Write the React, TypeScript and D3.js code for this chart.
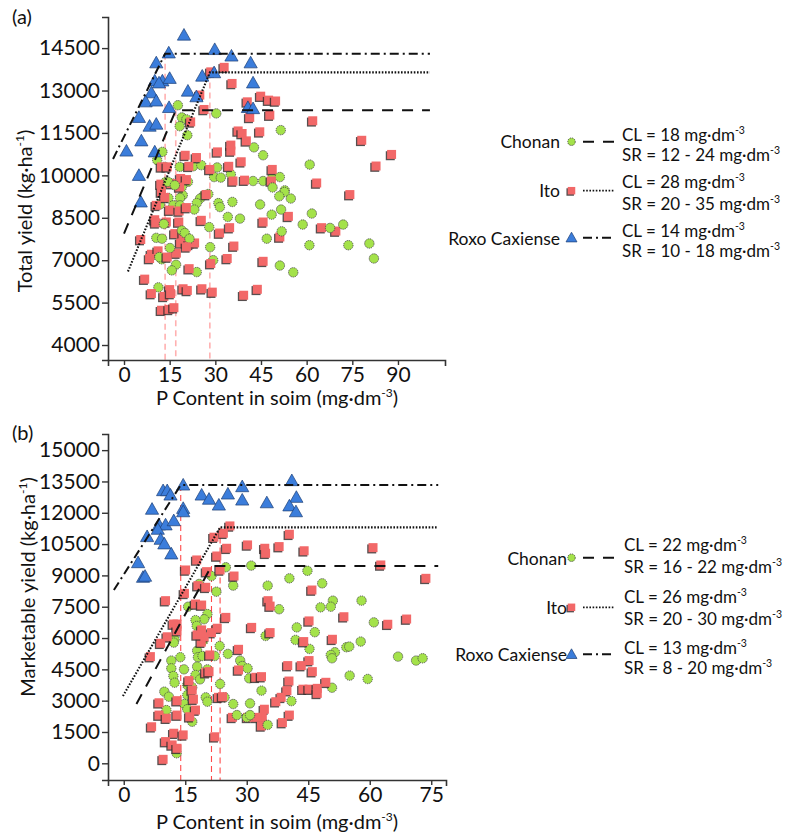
import React, { useEffect, useRef } from "react";
import * as d3 from "d3";

type Pt = [number, number];

// ---- (a) total yield, [P in soil, kg/ha] ----
const chonanTotal: Pt[] = [
  [17.7, 12480], [19.0, 12050], [20.5, 11980], [18.3, 11740], [20.8, 11420], [30.3, 12190], [51.5, 11600],
  [42.7, 10990], [45.7, 10710], [12.6, 10830], [10.9, 10540], [18.3, 10300], [22.7, 10320], [25.4, 10360],
  [13.4, 10300], [30.6, 10280], [29.6, 9940], [31.8, 9920], [35.1, 10040], [42.4, 9800], [45.7, 9800],
  [48.8, 9940], [51.2, 9940], [61.0, 10380], [21.0, 9770], [15.9, 9710], [52.8, 9470], [13.7, 9770],
  [19.0, 9590], [19.3, 9300], [26.3, 9300], [25.0, 9180], [23.9, 9020], [27.7, 9340], [31.0, 9020],
  [31.5, 8880], [35.6, 9060], [11.8, 8970], [14.6, 9200], [18.4, 9200], [16.2, 8940], [18.4, 8940],
  [23.1, 8790], [34.1, 8530], [38.1, 8470], [44.7, 8970], [48.5, 8610], [51.6, 8790], [51.8, 8020],
  [46.9, 7760], [58.7, 8260], [61.7, 8650], [67.7, 8140], [72.0, 8260], [60.9, 7530], [73.7, 7530],
  [80.6, 7590], [82.1, 7060], [51.2, 6810], [55.6, 6570], [13.1, 8280], [19.0, 8050], [20.0, 7960],
  [21.5, 7760], [10.6, 7790], [12.5, 7760], [15.1, 7430], [12.4, 7030], [11.6, 7110], [17.1, 6840],
  [15.7, 6640], [23.9, 6580], [28.3, 7460], [29.3, 7000], [28.0, 8170], [11.3, 6040], [48.8, 9570],
  [52.7, 9410], [51.0, 9260], [54.8, 9180], [14.5, 9770], [16.7, 9650],
];
const itoTotal: Pt[] = [
  [32.9, 13820], [28.5, 13660], [35.5, 13250], [24.9, 12840], [26.3, 12330], [40.5, 12600], [44.9, 12800],
  [47.5, 12660], [49.8, 12630], [41.3, 12050], [47.9, 12130], [21.9, 11890], [37.5, 11570], [38.8, 11480],
  [44.6, 11540], [40.2, 11220], [35.1, 11070], [30.7, 10830], [35.1, 10860], [23.8, 10630], [38.5, 10480],
  [20.1, 10710], [34.4, 10320], [21.3, 10320], [12.3, 10300], [14.2, 10300], [28.2, 10210], [48.7, 10210],
  [18.6, 9890], [20.5, 9850], [35.8, 9800], [39.6, 9830], [48.4, 9800], [12.1, 9690], [18.3, 9590],
  [62.0, 11930], [78.1, 11240], [87.9, 10740], [82.8, 10330], [63.3, 9730], [74.2, 9320], [54.0, 8550],
  [64.9, 8150], [69.6, 8030], [51.2, 7820], [15.5, 9710], [27.0, 9320], [12.3, 9410], [13.4, 9220],
  [15.0, 8770], [18.1, 8740], [20.5, 8860], [10.6, 8940], [10.1, 8430], [10.4, 8320], [13.9, 8350],
  [18.0, 8350], [25.4, 8410], [16.7, 7940], [5.5, 7730], [19.4, 7880], [18.6, 7610], [21.4, 7560],
  [23.2, 7610], [20.5, 7470], [17.2, 7250], [9.0, 7210], [11.2, 7330], [8.4, 7060], [14.2, 7110],
  [31.4, 7960], [34.7, 8150], [36.1, 7500], [45.7, 8350], [33.9, 7060], [28.5, 6880], [45.7, 6960],
  [21.4, 6700], [6.8, 6330], [9.0, 5820], [15.0, 5960], [13.1, 5720], [15.3, 5820], [19.4, 5990],
  [20.8, 5930], [25.6, 5990], [29.0, 5870], [39.3, 5760], [43.8, 5970], [12.3, 5230], [14.8, 5260],
  [16.4, 5320],
];
const roxoTotal: Pt[] = [
  [19.7, 14960], [14.7, 14330], [29.8, 14450], [35.3, 14220], [41.6, 13980], [10.6, 13980], [10.1, 13340],
  [12.6, 13340], [15.0, 13430], [11.5, 13270], [25.7, 13510], [29.6, 13630], [42.4, 13270], [9.0, 12920],
  [21.0, 12980], [7.1, 12600], [10.6, 12630], [23.8, 12780], [14.8, 12400], [40.7, 12400], [42.4, 12360],
  [4.9, 12050], [8.4, 11740], [10.6, 11810], [5.7, 11220], [0.8, 10860], [10.1, 10830], [4.9, 10000],
  [5.5, 9060],
];

// ---- (b) marketable yield ----
const chonanMarket: Pt[] = [
  [24.9, 9390], [31.1, 9470], [21.4, 8970], [26.7, 8510], [35.1, 8510], [40.4, 8860], [44.8, 9220],
  [22.6, 8220], [18.4, 8590], [37.9, 7380], [15.7, 7500], [48.4, 8620], [51.0, 7790], [50.5, 7500],
  [58.0, 7790], [48.0, 7470], [42.2, 6510], [46.6, 6280], [61.0, 6750], [41.9, 5910], [45.3, 5480],
  [51.5, 5320], [50.5, 5190], [50.8, 5030], [54.3, 5560], [55.0, 5590], [57.8, 5830], [66.9, 5110],
  [71.3, 4920], [72.9, 5030], [55.1, 4200], [59.5, 4040], [50.8, 3620], [40.9, 2980], [20.4, 7150],
  [19.6, 6900], [17.5, 6860], [17.8, 6580], [18.7, 6150], [19.4, 5870], [12.4, 5940], [12.2, 5780],
  [34.6, 6100], [23.4, 5620], [25.4, 5240], [17.9, 5390], [18.1, 5080], [19.2, 5140], [22.2, 5140],
  [13.8, 5080], [11.6, 4920], [11.6, 4550], [14.7, 4500], [17.9, 4630], [20.4, 4500], [28.4, 4920],
  [28.9, 4660], [30.2, 4550], [30.6, 4070], [12.1, 4180], [12.4, 3860], [17.5, 4230], [18.6, 4020],
  [15.5, 3750], [16.7, 3640], [23.5, 3800], [33.6, 3480], [9.9, 3430], [11.0, 3190], [15.5, 3270],
  [20.0, 3160], [20.4, 2950], [14.8, 2840], [24.6, 3160], [26.7, 2840], [30.8, 2870], [10.4, 2550],
  [15.5, 2590], [27.6, 2310], [30.0, 2200], [30.8, 2310], [35.1, 1840], [16.7, 1990], [12.9, 480],
];
const itoMarket: Pt[] = [
  [25.9, 11370], [24.3, 11020], [22.0, 10830], [40.4, 10970], [44.0, 10180], [30.2, 10460], [34.4, 10300],
  [34.6, 10060], [37.9, 10380], [25.1, 10300], [22.7, 9930], [17.8, 9740], [15.1, 9260], [20.2, 9180],
  [23.5, 9260], [26.9, 8970], [14.8, 8140], [18.1, 8510], [20.0, 8430], [10.2, 7790], [17.5, 7630],
  [19.0, 7580], [35.2, 7790], [35.7, 7530], [60.8, 10330], [62.7, 9500], [73.7, 8860], [45.9, 8300],
  [53.7, 7020], [45.2, 6820], [64.4, 6660], [69.0, 6910], [50.9, 5940], [43.9, 5830], [45.2, 4920],
  [40.0, 4680], [43.3, 4680], [46.0, 4390], [40.3, 3940], [49.3, 3880], [39.8, 3480], [43.7, 3550],
  [45.2, 3550], [47.2, 3590], [47.2, 3350], [38.4, 3160], [40.4, 2310], [38.7, 1950], [13.0, 6670],
  [12.1, 6670], [24.9, 6990], [22.8, 6470], [21.4, 6260], [13.0, 6350], [19.0, 6390], [31.2, 6510],
  [35.7, 6260], [10.6, 6060], [9.0, 5750], [19.6, 6060], [18.9, 5800], [17.9, 6150], [6.5, 5110],
  [21.0, 5190], [28.0, 5460], [20.0, 4340], [20.8, 4390], [15.9, 3960], [28.0, 4470], [32.2, 4120],
  [33.6, 4150], [37.1, 2950], [34.3, 2590], [33.8, 2200], [32.4, 2200], [33.6, 1790], [30.2, 2200],
  [26.5, 2200], [23.1, 3160], [24.1, 3190], [16.7, 3510], [17.0, 3070], [17.5, 2550], [13.0, 3000],
  [8.6, 2900], [8.6, 2310], [10.4, 2160], [13.0, 2310], [16.1, 2230], [6.8, 1750], [12.2, 1440],
  [14.5, 1360], [10.2, 1040], [11.8, 880], [13.0, 720], [9.6, 190], [22.2, 1270],
];
const roxoMarket: Pt[] = [
  [14.5, 13330], [9.6, 13060], [10.6, 13060], [11.4, 12850], [19.0, 12850], [20.8, 12650], [23.2, 12370],
  [25.4, 12900], [28.9, 13250], [28.9, 12610], [34.9, 12480], [41.0, 13540], [42.1, 12740], [40.4, 12330],
  [42.0, 12050], [14.5, 12210], [14.5, 12050], [6.9, 12170], [8.6, 11420], [10.2, 11420], [12.2, 11620],
  [8.3, 11210], [9.0, 10730], [9.9, 10510], [5.7, 10860], [11.6, 10030], [3.5, 9610], [4.7, 8910],
  [5.2, 8960],
];

// linear-plateau fits: [start P, start yield, critical P, plateau yield, end P]
const chonanFitTotal = [0, 7940, 17, 12300, 100.5];
const itoFitTotal = [1.3, 6600, 28.2, 13640, 100.5];
const roxoFitTotal = [-3.6, 10580, 13.5, 14300, 100.5];
const chonanFitMarket = [3.1, 2840, 21.4, 9450, 76.7];
const itoFitMarket = [-0.2, 3220, 23.5, 11300, 76.7];
const roxoFitMarket = [-2.4, 8300, 13.9, 13330, 76.7];

const cultivars = ["Chonan", "Ito", "Roxo Caxiense"];
const clTotal = ["18", "28", "14"];
const srTotal = ["12 - 24", "20 - 35", "10 - 18"];
const clMarket = ["22", "26", "13"];
const srMarket = ["16 - 22", "20 - 30", "8 - 20"];

const xTicksTotal = [0, 15, 30, 45, 60, 75, 90];
const yTicksTotal = [4000, 5500, 7000, 8500, 10000, 11500, 13000, 14500];
const xTicksMarket = [0, 15, 30, 45, 60, 75];
const yTicksMarket = [0, 1500, 3000, 4500, 6000, 7500, 9000, 10500, 12000, 13500, 15000];

const FONT = "Lato, 'Open Sans', sans-serif";
const GREEN = "#a4e24a";
const RED = "#f26868";
const BLUE = "#3b7ddb";
const DASH = ["11,9", "1.6,1.6", "9,4,2,4"];

type Panel = {
  tag: string;
  xDomain: [number, number];
  yDomain: [number, number];
  xRange: [number, number];
  yRange: [number, number];
  xTicks: number[];
  yTicks: number[];
  series: Pt[][];
  fits: number[][];
  vColor: string;
  vWidth: number;
  yTitle: string;
  yTitleX: number;
  yTitleY: number;
  xTitleY: number;
  tagY: number;
  cl: string[];
  sr: string[];
  legendLabelX: number;
  legendTextX: number;
  // per row: label baseline, marker y, CL baseline, SR baseline
  legendRows: number[][];
};

const panels: Panel[] = [
  {
    tag: "(a)", xDomain: [-5.26, 105.45], yDomain: [3470, 15600], xRange: [108, 445], yRange: [360, 17],
    xTicks: xTicksTotal, yTicks: yTicksTotal,
    series: [chonanTotal, itoTotal, roxoTotal],
    fits: [chonanFitTotal, itoFitTotal, roxoFitTotal],
    vColor: "#ffb0b0", vWidth: 1.6,
    yTitle: "Total yield (kg·ha", yTitleX: 32, yTitleY: 211, xTitleY: 405, tagY: 24,
    cl: clTotal, sr: srTotal, legendLabelX: 560, legendTextX: 622,
    legendRows: [[147.7, 141.7, 141, 160.5], [197.3, 190.7, 188, 209.5], [245, 237.7, 237, 257]],
  },
  {
    tag: "(b)", xDomain: [-3.84, 78.6], yDomain: [-800, 15773], xRange: [108, 446], yRange: [780, 434],
    xTicks: xTicksMarket, yTicks: yTicksMarket,
    series: [chonanMarket, itoMarket, roxoMarket],
    fits: [chonanFitMarket, itoFitMarket, roxoFitMarket],
    vColor: "#ff4a4a", vWidth: 1.1,
    yTitle: "Marketable yield (kg·ha", yTitleX: 35, yTitleY: 587, xTitleY: 829, tagY: 440,
    cl: clMarket, sr: srMarket, legendLabelX: 567, legendTextX: 624,
    legendRows: [[565, 557.7, 551, 572.7], [614, 607.3, 602.5, 625], [660.7, 654.3, 653.5, 674]],
  },
];

const triPath = (s: number) => `M0,${-s * 0.55}L${s * 0.55},${s * 0.42}L${-s * 0.55},${s * 0.42}Z`;

function drawMarker(g: d3.Selection<SVGGElement, unknown, null, undefined>, k: number, x: number, y: number, size: number) {
  if (k === 0) {
    g.append("circle").attr("cx", x).attr("cy", y).attr("r", size / 2)
      .attr("fill", GREEN).attr("stroke", "#4a4a4a").attr("stroke-width", 0.9).attr("stroke-dasharray", "1.3,0.9");
  } else if (k === 1) {
    g.append("rect").attr("x", x - size / 2 - 1.3).attr("y", y - size / 2 + 1.3).attr("width", size).attr("height", size)
      .attr("fill", "#3a3030").attr("opacity", 0.85);
    g.append("rect").attr("x", x - size / 2).attr("y", y - size / 2).attr("width", size).attr("height", size)
      .attr("fill", RED);
  } else {
    g.append("path").attr("d", triPath(size)).attr("transform", `translate(${x},${y})`)
      .attr("fill", BLUE).attr("stroke", "#1d3f75").attr("stroke-width", 0.7);
  }
}

export default function App() {
  const ref = useRef<SVGSVGElement>(null);

  useEffect(() => {
    const svg = d3.select(ref.current);
    svg.selectAll("*").remove();

    panels.forEach((p) => {
      const x = d3.scaleLinear().domain(p.xDomain).range(p.xRange);
      const y = d3.scaleLinear().domain(p.yDomain).range(p.yRange);
      const g = svg.append("g");

      // critical-level guides
      p.fits.forEach((f) => {
        g.append("line").attr("x1", x(f[2])).attr("x2", x(f[2])).attr("y1", y(f[3])).attr("y2", p.yRange[0])
          .attr("stroke", p.vColor).attr("stroke-width", p.vWidth).attr("stroke-dasharray", "6,4");
      });

      // points: circles and squares interleaved, triangles on top
      const pts = g.append("g");
      const n = Math.max(p.series[0].length, p.series[1].length);
      for (let i = 0; i < n; i++) {
        if (p.series[1][i]) drawMarker(pts, 1, x(p.series[1][i][0]), y(p.series[1][i][1]), 9);
        if (p.series[0][i]) drawMarker(pts, 0, x(p.series[0][i][0]), y(p.series[0][i][1]), 9.4);
      }
      p.series[2].forEach((d) => drawMarker(pts, 2, x(d[0]), y(d[1]), 12));

      // fitted linear-plateau lines
      p.fits.forEach((f, k) => {
        const line = d3.line<number[]>().x((d) => x(d[0])).y((d) => y(d[1]));
        g.append("path").attr("d", line([[f[0], f[1]], [f[2], f[3]], [f[4], f[3]]]))
          .attr("fill", "none").attr("stroke", "#111").attr("stroke-width", k === 1 ? 2.1 : 2)
          .attr("stroke-dasharray", DASH[k]);
      });

      // axes
      const ax = g.append("g").attr("transform", `translate(${p.xRange[0]},0)`)
        .call(d3.axisLeft(y).tickValues(p.yTicks).tickSize(6).tickSizeOuter(6).tickPadding(2).tickFormat(d3.format("d")));
      const bx = g.append("g").attr("transform", `translate(0,${p.yRange[0]})`)
        .call(d3.axisBottom(x).tickValues(p.xTicks).tickSize(5).tickSizeOuter(6).tickPadding(2.5));
      [ax, bx].forEach((a) => {
        a.select(".domain").attr("stroke", "#333").attr("stroke-width", 1.6);
        a.selectAll(".tick line").attr("stroke", "#333").attr("stroke-width", 1.4);
        a.selectAll("text").attr("font-family", FONT).attr("font-size", 21).attr("fill", "#111");
      });

      // titles
      const yt = g.append("text").attr("transform", `translate(${p.yTitleX},${p.yTitleY}) rotate(-90)`)
        .attr("text-anchor", "middle").attr("font-family", FONT).attr("font-size", 20).attr("fill", "#111");
      yt.append("tspan").text(p.yTitle);
      yt.append("tspan").attr("dy", -8).attr("font-size", 12).text("-1");
      yt.append("tspan").attr("dy", 8).text(")");

      const xt = g.append("text").attr("x", 277).attr("y", p.xTitleY)
        .attr("text-anchor", "middle").attr("font-family", FONT).attr("font-size", 20).attr("fill", "#111");
      xt.append("tspan").text("P Content in soim (mg·dm");
      xt.append("tspan").attr("dy", -8).attr("font-size", 12).text("-3");
      xt.append("tspan").attr("dy", 8).text(")");

      g.append("text").attr("x", 12).attr("y", p.tagY).attr("font-family", FONT).attr("font-size", 20)
        .attr("fill", "#111").text(p.tag);

      // legend
      cultivars.forEach((name, k) => {
        const r = p.legendRows[k];
        g.append("text").attr("x", p.legendLabelX).attr("y", r[0]).attr("text-anchor", "end")
          .attr("font-family", FONT).attr("font-size", 17.5).attr("fill", "#111").text(name);
        drawMarker(g, k, 571.5, r[1], k === 2 ? 10 : 7.5);
        g.append("line").attr("x1", 583).attr("x2", 614).attr("y1", r[1]).attr("y2", r[1])
          .attr("stroke", "#111").attr("stroke-width", k === 1 ? 1.8 : 2).attr("stroke-dasharray", DASH[k]);
        const rows: [string, string, number][] = [["CL = ", p.cl[k], r[2]], ["SR = ", p.sr[k], r[3]]];
        rows.forEach(([lab, val, yy]) => {
          const t = g.append("text").attr("x", p.legendTextX).attr("y", yy)
            .attr("font-family", FONT).attr("font-size", 17).attr("fill", "#111");
          t.append("tspan").text(`${lab}${val} mg·dm`);
          t.append("tspan").attr("dy", -7).attr("font-size", 10.5).text("-3");
        });
      });
    });
  }, []);

  return (
    <svg ref={ref} width={795} height={835}
      style={{ position: "absolute", left: 0, top: 0, background: "#fff" }} />
  );
}
